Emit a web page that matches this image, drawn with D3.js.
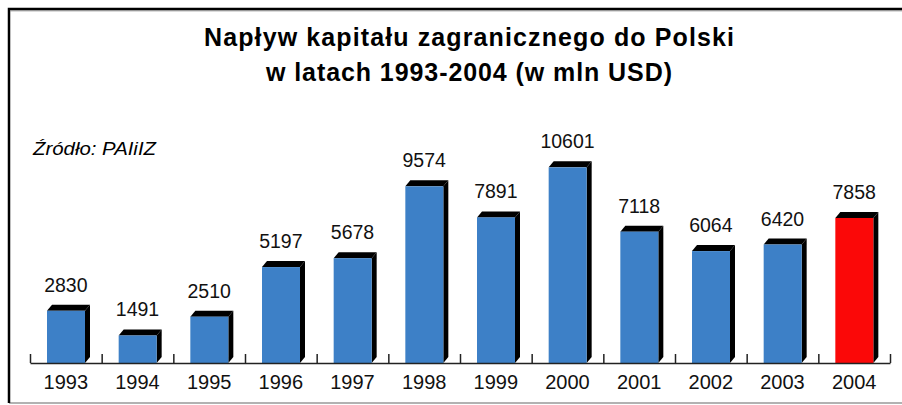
<!DOCTYPE html>
<html>
<head>
<meta charset="utf-8">
<script src="https://cdn.jsdelivr.net/npm/d3@7"></script>
<style>
  body { margin: 0; background: #fff; }
  svg { display: block; font-family: "Liberation Sans", Arial, sans-serif; }
</style>
</head>
<body>
<svg id="chart"></svg>
<script>
const width = 902;
const height = 405;

const years = ['1993', '1994', '1995', '1996', '1997', '1998', '1999', '2000', '2001', '2002', '2003', '2004'];
const values = [2830, 1491, 2510, 5197, 5678, 9574, 7891, 10601, 7118, 6064, 6420, 7858];
const highlight = ['2004'];

const titleLines = ['Napływ kapitału zagranicznego do Polski', 'w latach 1993-2004 (w mln USD)'];
const source = 'Źródło: PAIiIZ';

const svg = d3.select('#chart')
  .attr('width', width)
  .attr('height', height);

// frame
svg.append('line')
  .attr('x1', 9).attr('x2', width)
  .attr('y1', 403).attr('y2', 403)
  .attr('stroke', '#999').attr('stroke-width', 1.5);
svg.append('path')
  .attr('d', `M9,403V9H${width}`)
  .attr('fill', 'none')
  .attr('stroke', '#000')
  .attr('stroke-width', 2.5);
svg.append('line')
  .attr('x1', 10).attr('x2', width)
  .attr('y1', 10.8).attr('y2', 10.8)
  .attr('stroke', '#888').attr('stroke-width', 1);

// title
svg.append('g')
  .selectAll('text')
  .data(titleLines)
  .enter()
  .append('text')
  .attr('x', 469)
  .attr('y', (d, i) => 46 + i * 35)
  .attr('text-anchor', 'middle')
  .attr('font-size', 25)
  .attr('font-weight', 'bold')
  .attr('textLength', (d, i) => i === 0 ? 530 : 406)
  .attr('lengthAdjust', 'spacing')
  .text((d) => d);

svg.append('text')
  .attr('x', 33)
  .attr('y', 155)
  .attr('font-size', 19)
  .attr('font-style', 'italic')
  .attr('textLength', 123)
  .attr('lengthAdjust', 'spacingAndGlyphs')
  .text(source);

const x = d3.scaleBand()
  .domain(years)
  .range([30, 890]);

const y = d3.scaleLinear()
  .domain([0, 11000])
  .range([363, 160]);

const edges = d3.scaleLinear()
  .domain([0, years.length])
  .range(x.range());

const frontOff = 17;
const frontW = 38;
const dx = 5;
const dy = 6;

const bars = svg.append('g')
  .selectAll('g')
  .data(years.map((yr, i) => ({ year: yr, value: values[i] })))
  .enter()
  .append('g');

// right side
bars.append('path')
  .attr('fill', '#000')
  .attr('d', (d) => {
    const x1 = x(d.year) + frontOff + frontW;
    const t = y(d.value);
    return `M${x1},${t}L${x1 + dx},${t - dy}L${x1 + dx},${y(0) - dy}L${x1},${y(0)}Z`;
  });

// top cap
bars.append('path')
  .attr('fill', '#000')
  .attr('d', (d) => {
    const x0 = x(d.year) + frontOff;
    const x1 = x0 + frontW;
    const t = y(d.value);
    return `M${x0},${t}L${x0 + dx},${t - dy}L${x1 + dx},${t - dy}L${x1},${t}Z`;
  });

// front
bars.append('rect')
  .attr('x', (d) => x(d.year) + frontOff)
  .attr('y', (d) => y(d.value))
  .attr('width', frontW)
  .attr('height', (d) => y(0) - y(d.value))
  .attr('fill', (d) => highlight.includes(d.year) ? '#fb0808' : '#3d80c7');

bars.append('text')
  .attr('x', (d) => x(d.year) + x.bandwidth() / 2)
  .attr('y', (d) => y(d.value) - dy - 13)
  .attr('text-anchor', 'middle')
  .attr('font-size', 19.5)
  .attr('fill', '#111')
  .text((d) => d.value);

// axis
const axis = d3.axisBottom(edges)
  .tickValues(d3.range(years.length + 1))
  .tickFormat('')
  .tickSize(-9)
  .tickSizeOuter(0);

const gAxis = svg.append('g')
  .attr('transform', `translate(0,${y(0)})`)
  .call(axis);
gAxis.select('.domain').attr('stroke', '#222').attr('stroke-width', 1.5);
gAxis.selectAll('.tick line').attr('stroke', '#222').attr('stroke-width', 1.5);

svg.append('g')
  .selectAll('text')
  .data(years)
  .enter()
  .append('text')
  .attr('x', (d) => x(d) + x.bandwidth() / 2)
  .attr('y', 389)
  .attr('text-anchor', 'middle')
  .attr('font-size', 20)
  .attr('fill', '#111')
  .text((d) => d);
</script>
</body>
</html>
